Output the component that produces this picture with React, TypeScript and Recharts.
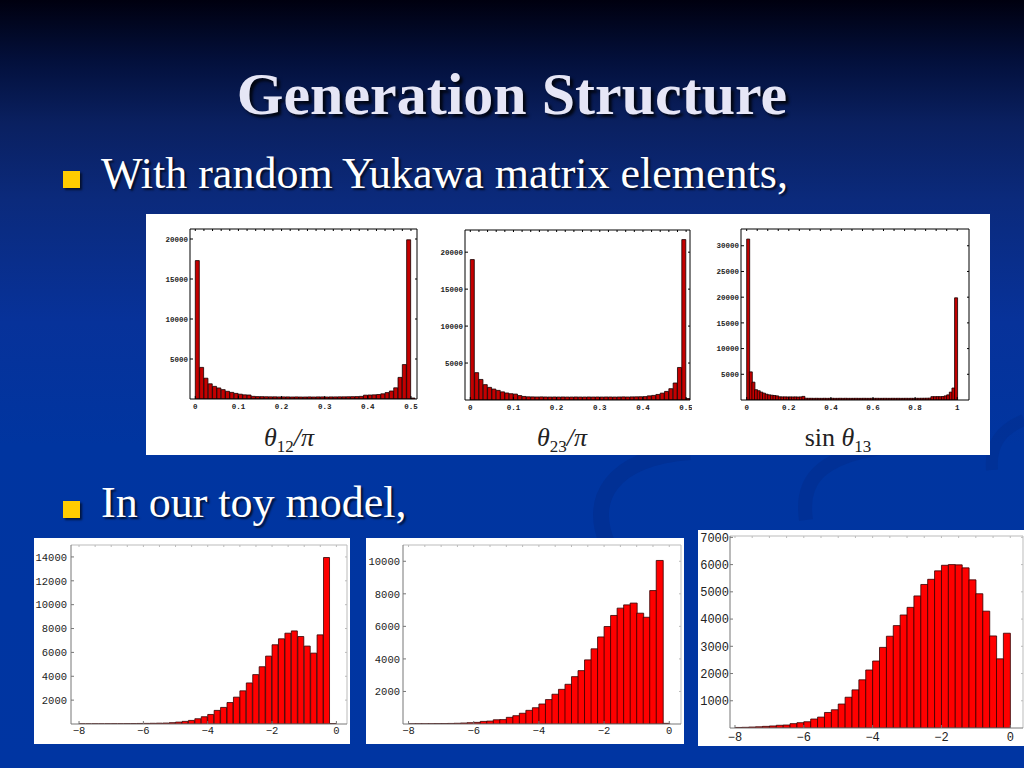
import { Bar, BarChart, ReferenceLine, XAxis, YAxis } from 'recharts'

// random Yukawa histograms (counts per bin)
const theta12Start = 0
const theta12Width = 0.01
const theta12Counts = [
  17300, 3950, 2600, 1900, 1580, 1380, 1170, 960, 830, 700, 600, 520, 500,
  330, 300, 290, 280, 270, 270, 260, 260, 260, 250, 260, 250, 250, 260, 250, 260, 260, 250, 260, 260, 270, 270, 280, 290, 300, 330,
  480, 500, 520, 560, 650, 800, 1000, 1400, 2700, 4300, 19900, 120,
]

const theta23Start = 0
const theta23Width = 0.01
const theta23Counts = [
  19000, 3700, 2780, 2080, 1710, 1480, 1300, 1100, 950, 850, 800, 600, 480,
  430, 420, 410, 420, 410, 400, 410, 400, 410, 400, 400, 410, 400, 400, 410, 400, 410, 400, 410, 410, 400, 410, 420, 410, 420, 430, 440, 460,
  560, 620, 750, 930, 1160, 1530, 2300, 4400, 21700, 200,
]

const sin13Start = 0
const sin13Width = 0.0125
const sin13Counts = [
  31300, 5470, 3470, 2000, 1800, 1530, 1330, 1130, 1000, 930, 870, 800,
  620, 600, 610, 590, 600, 590, 600, 580, 600, 700,
  340, 330, 330, 320, 330, 320, 320, 330, 320, 320, 330, 320, 320, 330, 320, 330, 320, 320, 320, 330,
  320, 320, 330, 320, 320, 330, 320, 330, 320, 320, 330, 320, 320, 330, 320, 330, 320, 320, 330, 320,
  330, 320, 330, 330, 340, 340, 350, 360,
  650, 650, 660, 650, 680, 800, 1000, 1530, 2330, 19870,
]

// toy model histograms, bins of 0.2 from -8
const toyStart = -8
const toyWidth = 0.2
const toy12Counts = [
  15, 15, 20, 20, 25, 30, 30, 35, 40, 45, 50, 60, 70, 80, 110, 160, 220, 300, 440, 610,
  800, 1140, 1390, 1800, 2250, 2780, 3440, 4140, 4800, 5690, 6640, 7140, 7610, 7800, 7330, 6530, 5940, 7470, 13950, 40,
]
const toy23Counts = [
  10, 15, 15, 20, 25, 30, 35, 45, 60, 80, 100, 160, 180, 260, 270, 410, 510, 660, 840, 1000,
  1230, 1500, 1830, 2130, 2440, 2910, 3280, 3940, 4620, 5350, 5990, 6670, 7120, 7320, 7430, 6810, 6560, 8200, 10050, 40,
]
const toy13Counts = [
  20, 25, 35, 45, 60, 75, 100, 110, 160, 195, 230, 330, 400, 570, 670, 880, 1130, 1400, 1770, 2130,
  2460, 2960, 3370, 3760, 4150, 4430, 4850, 5270, 5460, 5770, 5975, 6000, 5990, 5880, 5440, 4930, 4290, 3380, 2540, 3480,
]

// ticks
const piTicks = [0, 0.1, 0.2, 0.3, 0.4, 0.5]
const piMinorTicks = [0, 0.02, 0.04, 0.06, 0.08, 0.1, 0.12, 0.14, 0.16, 0.18, 0.2, 0.22, 0.24, 0.26, 0.28, 0.3, 0.32, 0.34, 0.36, 0.38, 0.4, 0.42, 0.44, 0.46, 0.48, 0.5]
const sinTicks = [0, 0.2, 0.4, 0.6, 0.8, 1]
const sinMinorTicks = [0, 0.05, 0.1, 0.15, 0.2, 0.25, 0.3, 0.35, 0.4, 0.45, 0.5, 0.55, 0.6, 0.65, 0.7, 0.75, 0.8, 0.85, 0.9, 0.95, 1]
const theta12YTicks = [5000, 10000, 15000, 20000]
const theta23YTicks = [5000, 10000, 15000, 20000]
const sin13YTicks = [5000, 10000, 15000, 20000, 25000, 30000]
const toyXTicks = [-8, -6, -4, -2, 0]
const toyMinorTicks = [-8, -7.5, -7, -6.5, -6, -5.5, -5, -4.5, -4, -3.5, -3, -2.5, -2, -1.5, -1, -0.5, 0]
const toy12YTicks = [2000, 4000, 6000, 8000, 10000, 12000, 14000]
const toy23YTicks = [2000, 4000, 6000, 8000, 10000]
const toy13YTicks = [1000, 2000, 3000, 4000, 5000, 6000, 7000]

function toBins(start: number, width: number, counts: number[]) {
  return counts.map((v, i) => ({ x: start + (i + 0.5) * width, v }))
}

const fmtTick = (v: number) => (v < 0 ? `\u2212${Math.abs(v)}` : String(v))

type HistProps = {
  data: { x: number; v: number }[]
  left: number
  top: number
  width: number
  height: number
  marginTop: number
  marginRight: number
  yAxisWidth: number
  xAxisHeight: number
  xDomain: [number, number]
  yMax: number
  xTicks: number[]
  yTicks: number[]
  topTicks: number[]
  rightTicks: number[]
  fill: string
  stroke: string
  axisColor: string
  frameColor: string
  fontSize: number
  fontWeight?: number
  xTickMargin: number
  yTickMargin: number
}

function Histogram(p: HistProps) {
  const tickStyle = { fontSize: p.fontSize, fontFamily: '"Liberation Mono", monospace', fill: '#222', fontWeight: p.fontWeight ?? 400 }
  const [lo, hi] = p.xDomain
  const plotH = p.height - p.marginTop - p.xAxisHeight
  const plotW = p.width - p.yAxisWidth - p.marginRight
  // frame tick length (2px) in data units
  const dy = (p.yMax * 2) / plotH
  const dx = ((hi - lo) * 2) / plotW
  return (
    <div style={{ position: 'absolute', left: p.left, top: p.top }}>
      <BarChart
        width={p.width}
        height={p.height}
        data={p.data}
        margin={{ top: p.marginTop, right: p.marginRight, bottom: 0, left: 0 }}
        barCategoryGap={0}
        barGap={0}
      >
        <XAxis
          dataKey="x"
          type="number"
          domain={p.xDomain}
          allowDataOverflow
          ticks={p.xTicks}
          interval={0}
          height={p.xAxisHeight}
          tickSize={-3}
          tickMargin={p.xTickMargin}
          tick={tickStyle}
          tickFormatter={fmtTick}
          axisLine={{ stroke: p.axisColor }}
          tickLine={{ stroke: p.axisColor }}
        />
        <YAxis
          type="number"
          domain={[0, p.yMax]}
          allowDataOverflow
          ticks={p.yTicks}
          interval={0}
          width={p.yAxisWidth}
          tickSize={-3}
          tickMargin={p.yTickMargin}
          tick={tickStyle}
          axisLine={{ stroke: p.axisColor }}
          tickLine={{ stroke: p.axisColor }}
        />
        <Bar dataKey="v" fill={p.fill} stroke={p.stroke} strokeWidth={0.8} isAnimationActive={false} />
        <ReferenceLine y={p.yMax} stroke={p.frameColor} ifOverflow="visible" />
        <ReferenceLine x={hi} stroke={p.frameColor} ifOverflow="visible" />
        {p.topTicks.map((t) => (
          <ReferenceLine
            key={`t${t}`}
            segment={[
              { x: t, y: p.yMax },
              { x: t, y: p.yMax - dy },
            ]}
            stroke={p.frameColor}
            ifOverflow="visible"
          />
        ))}
        {p.rightTicks.map((t) => (
          <ReferenceLine
            key={`r${t}`}
            segment={[
              { x: hi, y: t },
              { x: hi - dx, y: t },
            ]}
            stroke={p.frameColor}
            ifOverflow="visible"
          />
        ))}
      </BarChart>
    </div>
  )
}

const serif = '"Liberation Serif", "Times New Roman", serif'

function AxisName({ cx, children }: { cx: number; children: React.ReactNode }) {
  return (
    <div
      style={{
        position: 'absolute',
        left: cx - 80,
        width: 160,
        top: 425,
        textAlign: 'center',
        fontFamily: serif,
        fontSize: 26,
        lineHeight: '26px',
        color: '#222',
      }}
    >
      {children}
    </div>
  )
}

function BulletSquare({ top }: { top: number }) {
  return (
    <div
      style={{
        position: 'absolute',
        left: 63,
        top,
        width: 17,
        height: 17,
        background: '#ffcc00',
        boxShadow: '2px 2px 2px rgba(0,0,0,0.6)',
      }}
    />
  )
}

const bulletText: React.CSSProperties = {
  position: 'absolute',
  left: 101,
  fontFamily: serif,
  fontSize: 44,
  lineHeight: '44px',
  color: '#ffffff',
  textShadow: '2px 2px 2px rgba(0,0,0,0.7)',
  whiteSpace: 'nowrap',
}

export default function App() {
  const topRed = '#c40000'
  const toyRed = '#ff0000'
  return (
    <div
      style={{
        position: 'absolute',
        left: 0,
        top: 0,
        width: 1024,
        height: 768,
        overflow: 'hidden',
        background:
          'linear-gradient(to bottom, #00000f 0%, #03103c 8%, #0a2060 16%, #0b2a7c 26%, #07329a 42%, #0035a0 58%, #0035a2 100%)',
      }}
    >
      <svg width={1024} height={768} style={{ position: 'absolute', left: 0, top: 0 }}>
        <path d="M 690 452 C 610 458, 588 500, 608 545" stroke="#032a88" strokeWidth={16} fill="none" opacity={0.45} />
        <path d="M 880 448 C 820 458, 800 480, 806 520" stroke="#032a88" strokeWidth={14} fill="none" opacity={0.4} />
        <path d="M 1024 420 C 1000 430, 990 445, 992 470" stroke="#032a88" strokeWidth={12} fill="none" opacity={0.35} />
      </svg>

      <div
        style={{
          position: 'absolute',
          left: 0,
          width: 1024,
          top: 64,
          textAlign: 'center',
          fontFamily: serif,
          fontWeight: 700,
          fontSize: 60,
          lineHeight: '60px',
          color: '#e6e6f6',
          textShadow: '3px 3px 3px rgba(0,0,0,0.8)',
        }}
      >
        Generation Structure
      </div>

      <BulletSquare top={171} />
      <div style={{ ...bulletText, top: 152 }}>With random Yukawa matrix elements,</div>

      <BulletSquare top={501} />
      <div style={{ ...bulletText, top: 481 }}>In our toy model,</div>

      <div style={{ position: 'absolute', left: 146, top: 214, width: 844, height: 241, background: '#ffffff' }} />
      <div style={{ position: 'absolute', left: 34, top: 538, width: 316, height: 206, background: '#ffffff' }} />
      <div style={{ position: 'absolute', left: 366, top: 538, width: 318, height: 206, background: '#ffffff' }} />
      <div style={{ position: 'absolute', left: 698, top: 530, width: 326, height: 216, background: '#ffffff' }} />

      <Histogram
        data={toBins(theta12Start, theta12Width, theta12Counts)}
        left={150}
        top={222}
        width={269}
        height={198}
        marginTop={7}
        marginRight={2}
        yAxisWidth={40}
        xAxisHeight={21}
        xDomain={[-0.0123, 0.514]}
        yMax={21250}
        xTicks={piTicks}
        yTicks={theta12YTicks}
        topTicks={piMinorTicks}
        rightTicks={theta12YTicks}
        fill={topRed}
        stroke="#140000"
        axisColor="#000"
        frameColor="#000"
        fontSize={7.5}
        fontWeight={700}
        xTickMargin={8}
        yTickMargin={5}
      />
      <Histogram
        data={toBins(theta23Start, theta23Width, theta23Counts)}
        left={425}
        top={223}
        width={267}
        height={198}
        marginTop={7}
        marginRight={2}
        yAxisWidth={40}
        xAxisHeight={21}
        xDomain={[-0.0123, 0.509]}
        yMax={23000}
        xTicks={piTicks}
        yTicks={theta23YTicks}
        topTicks={piMinorTicks}
        rightTicks={theta23YTicks}
        fill={topRed}
        stroke="#140000"
        axisColor="#000"
        frameColor="#000"
        fontSize={7.5}
        fontWeight={700}
        xTickMargin={8}
        yTickMargin={5}
      />
      <Histogram
        data={toBins(sin13Start, sin13Width, sin13Counts)}
        left={701}
        top={222}
        width={270}
        height={199}
        marginTop={7}
        marginRight={2}
        yAxisWidth={40}
        xAxisHeight={21}
        xDomain={[-0.027, 1.056]}
        yMax={33260}
        xTicks={sinTicks}
        yTicks={sin13YTicks}
        topTicks={sinMinorTicks}
        rightTicks={sin13YTicks}
        fill={topRed}
        stroke="#140000"
        axisColor="#000"
        frameColor="#000"
        fontSize={7.5}
        fontWeight={700}
        xTickMargin={8}
        yTickMargin={5}
      />

      <AxisName cx={289}>
        <i>θ</i>
        <sub style={{ fontSize: 17 }}>12</sub>
        <i>/π</i>
      </AxisName>
      <AxisName cx={562}>
        <i>θ</i>
        <sub style={{ fontSize: 17 }}>23</sub>
        <i>/π</i>
      </AxisName>
      <AxisName cx={838}>
        sin <i>θ</i>
        <sub style={{ fontSize: 17 }}>13</sub>
      </AxisName>

      <Histogram
        data={toBins(toyStart, toyWidth, toy12Counts)}
        left={34}
        top={538}
        width={316}
        height={206}
        marginTop={7}
        marginRight={3}
        yAxisWidth={37}
        xAxisHeight={20}
        xDomain={[-8.25, 0.33]}
        yMax={15000}
        xTicks={toyXTicks}
        yTicks={toy12YTicks}
        topTicks={toyMinorTicks}
        rightTicks={toy12YTicks}
        fill={toyRed}
        stroke="#330000"
        axisColor="#777"
        frameColor="#bbb"
        fontSize={10.5}
        xTickMargin={6}
        yTickMargin={7}
      />
      <Histogram
        data={toBins(toyStart, toyWidth, toy23Counts)}
        left={366}
        top={538}
        width={318}
        height={206}
        marginTop={7}
        marginRight={3}
        yAxisWidth={37}
        xAxisHeight={20}
        xDomain={[-8.17, 0.36]}
        yMax={11000}
        xTicks={toyXTicks}
        yTicks={toy23YTicks}
        topTicks={toyMinorTicks}
        rightTicks={toy23YTicks}
        fill={toyRed}
        stroke="#330000"
        axisColor="#777"
        frameColor="#bbb"
        fontSize={10.5}
        xTickMargin={6}
        yTickMargin={6}
      />
      <Histogram
        data={toBins(toyStart, toyWidth, toy13Counts)}
        left={698}
        top={530}
        width={326}
        height={216}
        marginTop={6}
        marginRight={1}
        yAxisWidth={32}
        xAxisHeight={18}
        xDomain={[-8.145, 0.37]}
        yMax={7050}
        xTicks={toyXTicks}
        yTicks={toy13YTicks}
        topTicks={toyMinorTicks}
        rightTicks={toy13YTicks}
        fill={toyRed}
        stroke="#330000"
        axisColor="#777"
        frameColor="#bbb"
        fontSize={12}
        xTickMargin={7}
        yTickMargin={4}
      />
    </div>
  )
}
